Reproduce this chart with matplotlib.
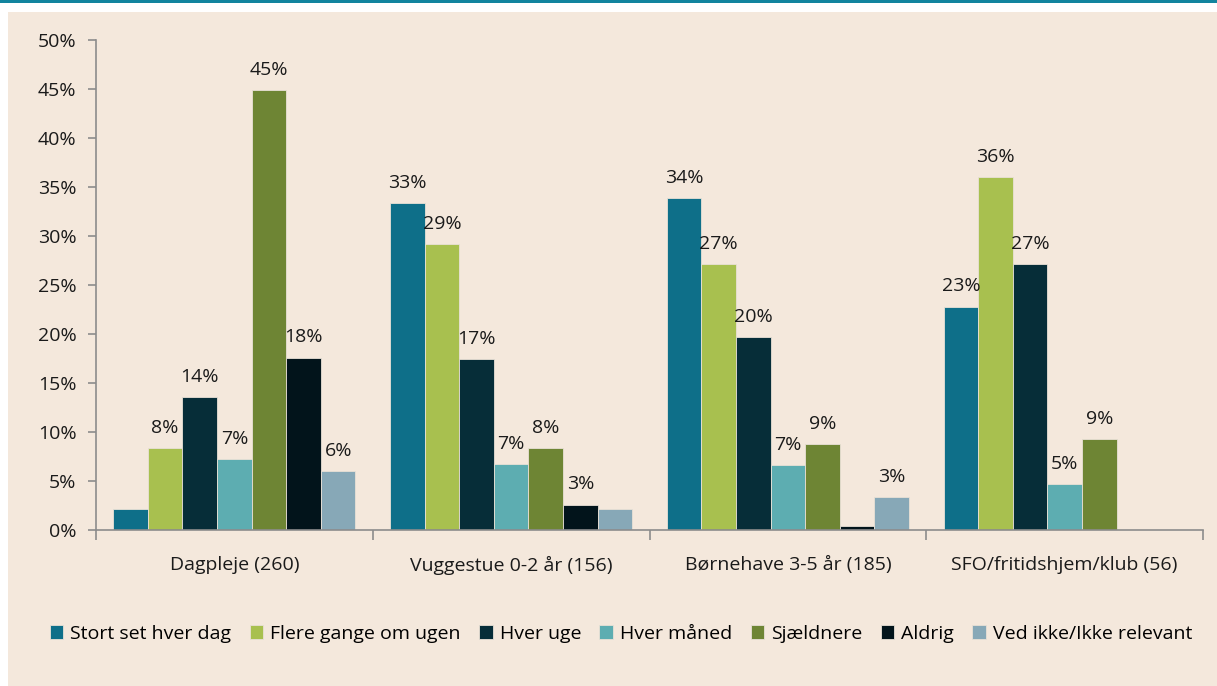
import matplotlib.pyplot as plt
import numpy as np
from matplotlib.patches import Rectangle

plt.rcParams['font.family'] = ['Open Sans', 'DejaVu Sans']

# Data
categories = ['Dagpleje (260)', 'Vuggestue 0-2 år (156)',
              'Børnehave 3-5 år (185)', 'SFO/fritidshjem/klub (56)']
series = ['Stort set hver dag', 'Flere gange om ugen', 'Hver uge', 'Hver måned',
          'Sjældnere', 'Aldrig', 'Ved ikke/Ikke relevant']
stort_set = [2.1, 33.4, 33.9, 22.8]
flere_gange = [8.4, 29.2, 27.1, 36.0]
hver_uge = [13.6, 17.4, 19.7, 27.1]
hver_maaned = [7.2, 6.7, 6.6, 4.7]
sjaeldnere = [44.9, 8.4, 8.8, 9.3]
aldrig = [17.6, 2.6, 0.4, 0.0]
ved_ikke = [6.0, 2.1, 3.4, 0.0]
values = [stort_set, flere_gange, hver_uge, hver_maaned, sjaeldnere, aldrig, ved_ikke]
colors = ['#0e6f89', '#a8c04f', '#062d38', '#5dadb1', '#6e8534', '#02141b', '#87a8b7']

bg = '#f4e8dc'
fs = 14
fig = plt.figure(figsize=(12.17, 6.86), dpi=100)
fig.patch.set_facecolor('white')
# beige panel and teal strip at top
fig.patches.append(Rectangle((8 / 1217, 0), 1 - 8 / 1217, 674 / 686,
                             transform=fig.transFigure, facecolor=bg,
                             edgecolor='none', zorder=-2))
fig.patches.append(Rectangle((0, 683 / 686), 1, 3 / 686,
                             transform=fig.transFigure, facecolor='#12849e',
                             edgecolor='none', zorder=-2))

ax = fig.add_axes([96 / 1217, 156 / 686, 1107 / 1217, 490 / 686])
ax.set_facecolor('none')

x = np.arange(len(categories))
w = 0.125
for i, (vals, col, name) in enumerate(zip(values, colors, series)):
    pos = x - 3 * w + i * w
    bars = ax.bar(pos, vals, width=w, color=col, label=name,
                  edgecolor='#e9e1d6', linewidth=0.6)
    for b, v in zip(bars, vals):
        if v >= 2.5:
            ax.annotate(f'{round(v):.0f}%', (b.get_x() + b.get_width() / 2, v),
                        xytext=(0, 8), textcoords='offset points',
                        ha='center', va='bottom', fontsize=fs, color='#1a1a1a')

ax.set_xlim(-0.5, len(categories) - 0.5)
ax.set_ylim(0, 50)
ax.set_yticks(range(0, 51, 5))
ax.set_yticklabels([f'{t}%' for t in range(0, 51, 5)], fontsize=fs, color='#1a1a1a')
ax.set_xticks(x)
ax.set_xticklabels(categories, fontsize=fs, color='#1a1a1a')
ax.tick_params(axis='x', length=0, pad=19)
ax.set_xticks(np.arange(-0.5, len(categories)), minor=True)
ax.tick_params(axis='x', which='minor', length=7, color='#8c8c8c', width=1.2)
ax.tick_params(axis='y', length=6, color='#8c8c8c', width=1.2, pad=8)
for s in ['top', 'right']:
    ax.spines[s].set_visible(False)
for s in ['left', 'bottom']:
    ax.spines[s].set_color('#8c8c8c')
    ax.spines[s].set_linewidth(1.2)

fig.legend(loc='center', bbox_to_anchor=(621 / 1217, 52 / 686), ncol=7, frameon=False,
           fontsize=fs, handlelength=0.7, handleheight=0.7,
           handletextpad=0.35, columnspacing=0.95)

fig.savefig('out.png', dpi=100, facecolor=fig.get_facecolor())
